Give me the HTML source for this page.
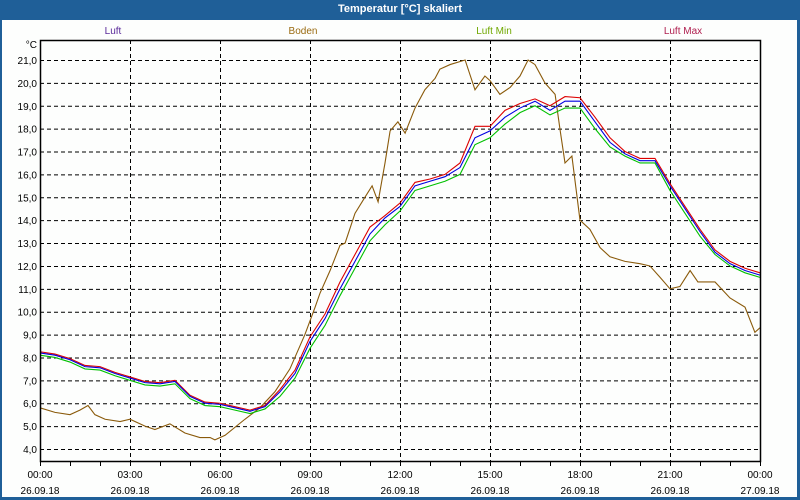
<!DOCTYPE html>
<html><head><meta charset="utf-8"><style>
body{margin:0;width:800px;height:500px;overflow:hidden;background:#1f5f98;font-family:"Liberation Sans",sans-serif}
#frame{position:absolute;left:2px;top:20px;width:795px;height:477px;background:#fdfefd}
#title{position:absolute;left:0;top:0;width:800px;height:20px;color:#fff;font-weight:bold;font-size:11px;text-align:center;line-height:18px}
svg{position:absolute;left:0;top:0}
text{font-family:"Liberation Sans",sans-serif;font-size:10px}
</style></head><body>
<div id="title">Temperatur [°C] skaliert</div>
<div id="frame"></div>
<svg id="chart" width="800" height="500"></svg>
<script>
const hoursLuft=[0,0.5,1,1.5,2,2.5,3,3.5,4,4.5,5,5.5,6,6.5,7,7.5,8,8.5,9,9.5,10,10.5,11,11.5,12,12.5,13,13.5,14,14.5,15,15.5,16,16.5,17,17.5,18,18.5,19,19.5,20,20.5,21,21.5,22,22.5,23,23.5,24];
const luft=[8.2,8.1,7.9,7.6,7.55,7.3,7.1,6.9,6.85,6.95,6.3,6.0,5.95,5.8,5.65,5.85,6.5,7.3,8.7,9.7,11.0,12.2,13.4,14.1,14.6,15.5,15.7,15.9,16.3,17.6,17.9,18.5,18.9,19.2,18.8,19.2,19.2,18.3,17.4,16.9,16.6,16.6,15.5,14.5,13.5,12.6,12.1,11.8,11.6];
const luftMax=[8.25,8.15,7.95,7.65,7.6,7.35,7.15,6.95,6.9,7.0,6.35,6.05,6.0,5.85,5.7,5.9,6.6,7.45,8.9,9.9,11.3,12.5,13.7,14.2,14.75,15.65,15.8,16.0,16.5,18.1,18.1,18.8,19.1,19.3,19.0,19.4,19.35,18.5,17.6,17.0,16.7,16.7,15.6,14.6,13.6,12.7,12.2,11.9,11.7];
const luftMin=[8.1,8.0,7.8,7.5,7.45,7.2,7.0,6.8,6.75,6.85,6.2,5.9,5.85,5.7,5.55,5.75,6.3,7.1,8.4,9.4,10.7,11.9,13.1,13.8,14.4,15.3,15.5,15.7,16.0,17.3,17.6,18.2,18.7,19.0,18.6,18.9,18.9,18.0,17.2,16.8,16.5,16.5,15.3,14.3,13.3,12.5,12.0,11.7,11.5];
const hoursBoden=[0,0.5,1,1.33,1.6,1.83,2.17,2.67,3,3.5,3.83,4.33,4.83,5.33,5.67,5.83,6.17,6.83,7.33,7.83,8.33,8.83,9.17,9.33,9.67,10,10.17,10.5,10.83,11.07,11.27,11.5,11.67,11.93,12.17,12.5,12.83,13.17,13.33,13.67,14.17,14.5,14.83,15,15.33,15.67,16,16.27,16.5,16.83,17.17,17.33,17.5,17.73,18,18.33,18.67,19,19.5,20,20.33,20.67,21,21.33,21.67,21.93,22.5,23,23.5,23.83,24];
const boden=[5.8,5.6,5.5,5.7,5.9,5.5,5.3,5.2,5.3,5.0,4.85,5.1,4.7,4.5,4.5,4.4,4.6,5.3,5.8,6.5,7.5,9.0,10.2,10.8,11.8,12.9,13.0,14.3,15.0,15.5,14.8,16.5,17.9,18.3,17.8,18.9,19.7,20.2,20.6,20.8,21.0,19.7,20.3,20.1,19.5,19.8,20.3,21.0,20.8,20.0,19.5,18.0,16.5,16.8,14.0,13.6,12.8,12.4,12.2,12.1,12.0,11.5,11.0,11.1,11.8,11.3,11.3,10.6,10.2,9.1,9.3];
const yTicks=["21,0","20,0","19,0","18,0","17,0","16,0","15,0","14,0","13,0","12,0","11,0","10,0","9,0","8,0","7,0","6,0","5,0","4,0"];
const xTimes=["00:00","03:00","06:00","09:00","12:00","15:00","18:00","21:00","00:00"];
const xDates=["26.09.18","26.09.18","26.09.18","26.09.18","26.09.18","26.09.18","26.09.18","26.09.18","27.09.18"];

const L=40,R=760,T=40,B=461;
const X=h=>L+h*(R-L)/24;
const Y=v=>60+(21-v)*(449-60)/17;
const svg=document.getElementById('chart');
const NS='http://www.w3.org/2000/svg';
function mk(tag,attrs,parent){const e=document.createElementNS(NS,tag);for(const k in attrs)e.setAttribute(k,attrs[k]);(parent||svg).appendChild(e);return e;}

// plot background
const bg=mk('rect',{x:L,y:T,width:R-L,height:B-T,fill:'#fdfefd'});



// grid
yTicks.forEach(t=>{
  const v=parseFloat(t.replace(',','.'));const y=Y(v)+0.5;
  const g=mk('line',{x1:L,x2:R,y1:y,y2:y,stroke:'#000','stroke-dasharray':'4,3','stroke-width':1});
  
  
  const tx=mk('text',{x:L-3,y:Y(v)+4,'text-anchor':'end',fill:'#000'});tx.textContent=t;
  
  
});
xTimes.forEach((t,i)=>{
  const x=X(i*3)+0.5;
  if(i>0&&i<8){const g=mk('line',{x1:x,x2:x,y1:T,y2:B,stroke:'#000','stroke-dasharray':'4,3'});
    
    }
  const a=mk('text',{x:X(i*3),y:478,'text-anchor':'middle',fill:'#000'});a.textContent=t;
  
  
  const b=mk('text',{x:X(i*3),y:494,'text-anchor':'middle',fill:'#000'});b.textContent=xDates[i];
  
  
});
for(let h=0;h<=24;h++){const x=X(h)+0.5;const tk=mk('line',{x1:x,x2:x,y1:B,y2:B+5,stroke:'#000'});
  
  }

function series(xs,ys,color,name){
  const p=mk('polyline',{points:xs.map((h,i)=>X(h)+','+Y(ys[i])).join(' '),fill:'none',stroke:color,'stroke-width':1.1});
  
  
}
series(hoursBoden,boden,'#8a5a0a','boden-line');
series(hoursLuft,luftMin,'#00c000','luft-min-line');
series(hoursLuft,luftMax,'#dd0000','luft-max-line');
series(hoursLuft,luft,'#0000e0','luft-line');

// axes box
const ax=mk('rect',{x:L+0.5,y:T+0.5,width:R-L,height:B-T,fill:'none',stroke:'#000','stroke-width':1.5});


const unit=mk('text',{x:L-3,y:48,'text-anchor':'end',fill:'#000'});unit.textContent='°C';



const legend=[["Luft",113,'#5a2a9a'],["Boden",303,'#9a6a10'],["Luft Min",494,'#70a800'],["Luft Max",683,'#b02050']];
legend.forEach(l=>{const t=mk('text',{x:l[1],y:34,'text-anchor':'middle',fill:l[2]});t.textContent=l[0];
  
  });
</script>
</body></html>
